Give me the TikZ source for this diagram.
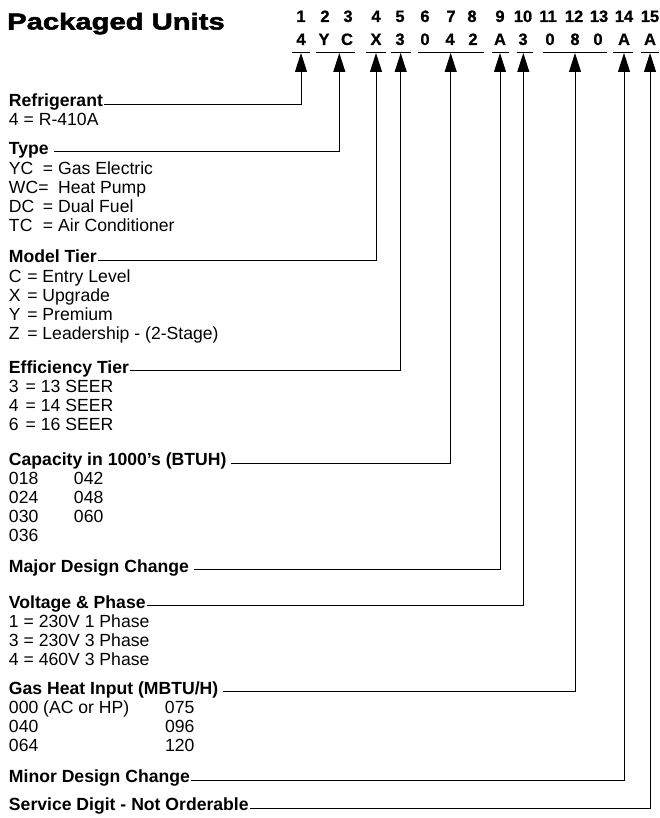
\documentclass[tikz,border=0pt]{standalone}
\usepackage{fontspec}
\setmainfont{Liberation Sans}
\newfontfamily\titlefont{Liberation Sans}[FakeStretch=1.27,FakeBold=2.4]
\newfontfamily\hdrfont{Liberation Sans}[FakeBold=0.8]
\usetikzlibrary{arrows.meta}
\begin{document}
\begin{tikzpicture}[x=1pt,y=-1pt,
  hd/.style={font=\bfseries\fontsize{17.6}{19}\selectfont, inner sep=0pt, outer sep=0pt, anchor=base west},
  it/.style={font=\fontsize{17.6}{19}\selectfont, inner sep=0pt, outer sep=0pt, anchor=base west},
  posn/.style={font=\hdrfont\bfseries\fontsize{16.5}{17}\selectfont, inner sep=0pt, anchor=base},
  ul/.style={line width=1pt},
  conn/.style={line width=0.9pt, -{Triangle[width=12pt,length=19pt]}},
]
\useasboundingbox (0,0) rectangle (659,818);

% title
\node[anchor=base west, inner sep=0pt, font=\titlefont\bfseries\fontsize{23}{25}\selectfont] (title) at (7,29.5) {Packaged Units};

% digit positions
\foreach \n/\x in {1/301,2/325,3/348,4/376,5/400,6/425,7/451,8/472,9/500,10/523,11/548,12/574,13/599,14/624,15/650}
  \node[posn] (p\n) at (\x,22) {\n};
% example values
\foreach \n/\x/\v in {1/301/4,2/324/Y,3/347/C,4/376/X,5/400/3,6/425/0,7/450/4,8/473/2,9/500/A,10/523/3,11/550/0,12/575/8,13/598/0,14/624/A,15/650/A}
  \node[posn] (v\n) at (\x,45) {\v};

% underlines
\foreach \a/\b in {291.5/309.5,316/355,365.5/386,391/411,418/484,491.5/508.5,516.5/532.7,542.7/606.7,613.3/633.3,640.7/659}
  \draw[ul] (\a,52.5) -- (\b,52.5);

% arrow tips
\coordinate (tRef) at (301,53);
\coordinate (tTyp) at (339.3,53);
\coordinate (tMod) at (376,53);
\coordinate (tEff) at (400.7,53);
\coordinate (tCap) at (450.7,53);
\coordinate (tMaj) at (500,53);
\coordinate (tVol) at (523.3,53);
\coordinate (tGas) at (575,53);
\coordinate (tMin) at (624,53);
\coordinate (tSer) at (650,53);

% Refrigerant
\node[hd] (hRef) at (9,106.6) {Refrigerant};
\node[it] (iRef1) at (9,125.6) {4 = R-410A};

% Type
\node[hd] (hTyp) at (9,154.1) {Type};
\node[it] (iTyp1) at (9,174.1) {\makebox[34pt][l]{YC}= Gas Electric};
\node[it] (iTyp2) at (9,193.1) {WC=\hspace{9.5pt}Heat Pump};
\node[it] (iTyp3) at (9,212.1) {\makebox[34pt][l]{DC}= Dual Fuel};
\node[it] (iTyp4) at (9,231.1) {\makebox[34pt][l]{TC}= Air Conditioner};

% Model Tier
\node[hd] (hMod) at (9,262.6) {Model Tier};
\node[it] (iMod1) at (9,282) {\makebox[18.3pt][l]{C}= Entry Level};
\node[it] (iMod2) at (9,301) {\makebox[18.3pt][l]{X}= Upgrade};
\node[it] (iMod3) at (9,320) {\makebox[18.3pt][l]{Y}= Premium};
\node[it] (iMod4) at (9,339) {\makebox[18.3pt][l]{Z}= Leadership - (2-Stage)};

% Efficiency Tier
\node[hd] (hEff) at (9,373.1) {Efficiency Tier};
\node[it] (iEff1) at (9,392.6) {\makebox[16.7pt][l]{3}= 13 SEER};
\node[it] (iEff2) at (9,411.6) {\makebox[16.7pt][l]{4}= 14 SEER};
\node[it] (iEff3) at (9,430.6) {\makebox[16.7pt][l]{6}= 16 SEER};

% Capacity
\node[hd] (hCap) at (9,465.6) {Capacity in 1000’s (BTUH)};
\node[it] (iCap1) at (9,484.6) {\makebox[65pt][l]{018}042};
\node[it] (iCap2) at (9,503.6) {\makebox[65pt][l]{024}048};
\node[it] (iCap3) at (9,522.6) {\makebox[65pt][l]{030}060};
\node[it] (iCap4) at (9,541.6) {036};

% Major
\node[hd] (hMaj) at (9,572.1) {Major Design Change};

% Voltage
\node[hd] (hVol) at (9,608.1) {Voltage \& Phase};
\node[it] (iVol1) at (9,627) {1 = 230V 1 Phase};
\node[it] (iVol2) at (9,646) {3 = 230V 3 Phase};
\node[it] (iVol3) at (9,665) {4 = 460V 3 Phase};

% Gas heat
\node[hd] (hGas) at (9,694.1) {Gas Heat Input (MBTU/H)};
\node[it] (iGas1) at (9,713.6) {\makebox[156pt][l]{000 (AC or HP)}075};
\node[it] (iGas2) at (9,732.6) {\makebox[156pt][l]{040}096};
\node[it] (iGas3) at (9,751.6) {\makebox[156pt][l]{064}120};

% Minor, Service
\node[hd] (hMin) at (9,782.6) {Minor Design Change};
\node[hd] (hSer) at (9,810.6) {Service Digit - Not Orderable};

% connectors
\draw[conn] ([xshift=1pt]hRef.mid east) -| (tRef);
\draw[conn] ([xshift=5pt]hTyp.mid east) -| (tTyp);
\draw[conn] ([xshift=1pt]hMod.mid east) -| (tMod);
\draw[conn] ([xshift=1pt]hEff.mid east) -| (tEff);
\draw[conn] ([xshift=5pt]hCap.mid east) -| (tCap);
\draw[conn] ([xshift=5pt]hMaj.mid east) -| (tMaj);
\draw[conn] ([xshift=1pt]hVol.mid east) -| (tVol);
\draw[conn] ([xshift=5pt]hGas.mid east) -| (tGas);
\draw[conn] ([xshift=1pt]hMin.mid east) -| (tMin);
\draw[conn] ([xshift=1pt]hSer.mid east) -| (tSer);
\end{tikzpicture}
\end{document}
